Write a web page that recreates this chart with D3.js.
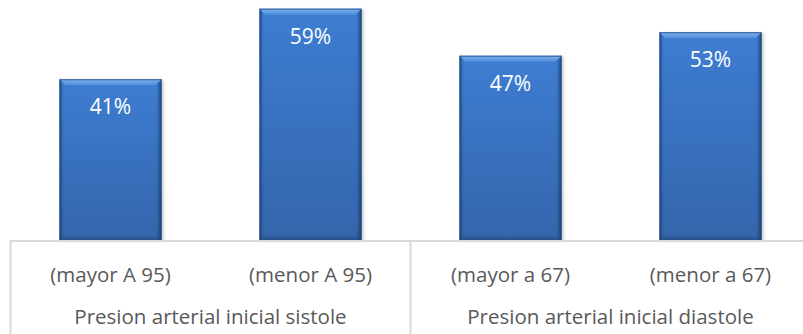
<!DOCTYPE html>
<html><head><meta charset="utf-8">
<script src="https://cdn.jsdelivr.net/npm/d3@7"></script>
<style>
html,body{margin:0;padding:0;background:#fff;}
svg{display:block;font-family:"Open Sans",Lato,sans-serif;}
</style></head>
<body>
<script>
const groups = ["Presion arterial inicial sistole", "Presion arterial inicial diastole"];
const categories = ["(mayor A 95)", "(menor A 95)", "(mayor a 67)", "(menor a 67)"];
const categoryGroup = [0, 0, 1, 1];
const values = [41, 59, 47, 53];
const labels = ["41%", "59%", "47%", "53%"];

const W = 803, H = 334;
const svg = d3.select("body").append("svg").attr("width", W).attr("height", H);
const defs = svg.append("defs");

const x = d3.scaleBand().domain(categories).range([10.5, 810.5]).paddingInner(0.49).paddingOuter(0.245);
const y = d3.scaleLinear().domain([0, 60]).range([240, 4.8]);

// gradients
const gv = defs.append("linearGradient").attr("id","gv").attr("x1",0).attr("y1",0).attr("x2",0).attr("y2",1);
gv.append("stop").attr("offset","0%").attr("stop-color","#3d7dd2");
gv.append("stop").attr("offset","100%").attr("stop-color","#3465ab");
const gh = defs.append("linearGradient").attr("id","gh").attr("x1",0).attr("y1",0).attr("x2",1).attr("y2",0);
gh.append("stop").attr("offset","0%").attr("stop-color","#0d2a50").attr("stop-opacity",0.55);
gh.append("stop").attr("offset","4%").attr("stop-color","#0d2a50").attr("stop-opacity",0.0);
gh.append("stop").attr("offset","95%").attr("stop-color","#0d2a50").attr("stop-opacity",0.0);
gh.append("stop").attr("offset","100%").attr("stop-color","#0d2a50").attr("stop-opacity",0.6);
const gt = defs.append("linearGradient").attr("id","gt").attr("x1",0).attr("y1",0).attr("x2",0).attr("y2",1);
gt.append("stop").attr("offset","0%").attr("stop-color","#7fb1ee");
gt.append("stop").attr("offset","100%").attr("stop-color","#4d8ddb");
const gb = defs.append("linearGradient").attr("id","gb").attr("x1",0).attr("y1",0).attr("x2",0).attr("y2",1);
gb.append("stop").attr("offset","0%").attr("stop-color","#1d3f6e").attr("stop-opacity",0);
gb.append("stop").attr("offset","100%").attr("stop-color","#1d3f6e").attr("stop-opacity",0.5);
const flt = defs.append("filter").attr("id","sh").attr("x","-10%").attr("y","-10%").attr("width","130%").attr("height","130%");
flt.append("feDropShadow").attr("dx",2).attr("dy",1).attr("stdDeviation",1.5).attr("flood-color","#000").attr("flood-opacity",0.22);

const bars = svg.append("g").selectAll("g").data(categories).join("g");
bars.each(function(c, i){
  const g = d3.select(this);
  const x0 = x(c), bw = x.bandwidth(), y0 = y(values[i]), h = y(0) - y(values[i]);
  g.append("rect").attr("x", x0).attr("y", y0).attr("width", bw).attr("height", h)
    .attr("fill","url(#gv)").attr("filter","url(#sh)");
  g.append("rect").attr("x", x0).attr("y", y0).attr("width", bw).attr("height", h)
    .attr("fill","url(#gh)");
  g.append("rect").attr("x", x0).attr("y", y0 + h - 5).attr("width", bw).attr("height", 5)
    .attr("fill","url(#gb)");
  const b = 6;
  g.append("path").attr("d", `M${x0},${y0}L${x0+bw},${y0}L${x0+bw-b},${y0+b}L${x0+b},${y0+b}Z`)
    .attr("fill","url(#gt)");
  g.append("rect").attr("x", x0+0.5).attr("y", y0+0.5).attr("width", bw-1).attr("height", h-0.5)
    .attr("fill","none").attr("stroke","#244a80").attr("stroke-width",1).attr("stroke-opacity",0.8);
  g.append("text").attr("x", x0 + bw/2).attr("y", y0 + 35).attr("text-anchor","middle")
    .attr("fill","#fff").attr("font-size","21px").text(labels[i]);
});

// axis lines
const axis = svg.append("g").attr("stroke","#d9d9d9").attr("stroke-width",2);
axis.append("line").attr("x1",10).attr("x2",W).attr("y1",241).attr("y2",241);
const groupEdges = [x.range()[0], x(categories[2]) - x.step()*x.paddingInner()/2];
groupEdges.forEach(gx => axis.append("line").attr("x1",gx).attr("x2",gx).attr("y1",240).attr("y2",H));

// category labels
svg.append("g").selectAll("text").data(categories).join("text")
  .attr("x", c => x(c) + x.bandwidth()/2).attr("y", 282).attr("text-anchor","middle")
  .attr("fill","#595959").attr("font-size","20.5px").text(c => c);

svg.append("g").selectAll("text").data(groups).join("text")
  .attr("x", (g, gi) => {
    const cs = categories.filter((c, i) => categoryGroup[i] === gi);
    return (x(cs[0]) + x(cs[cs.length-1]) + x.bandwidth())/2;
  })
  .attr("y", 324).attr("text-anchor","middle")
  .attr("fill","#595959").attr("font-size","20.5px").text(g => g);
</script>
</body></html>
